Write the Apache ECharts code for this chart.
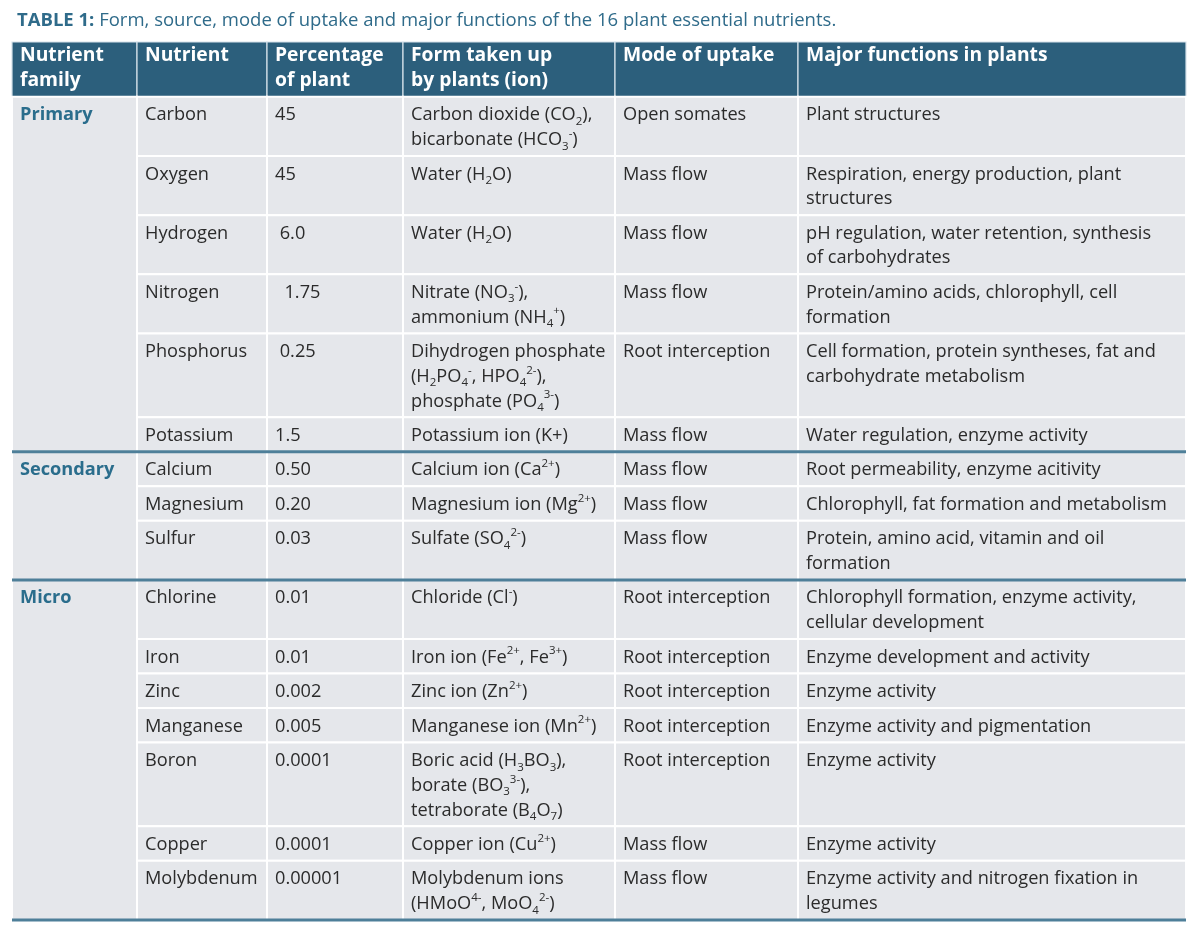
<!DOCTYPE html>
<html>
<head>
    <meta charset="utf-8">
    <title>Plant nutrients table</title>
    <script src="https://cdn.jsdelivr.net/npm/echarts@6/dist/echarts.min.js"></script>
    <style>
        html, body { margin: 0; padding: 0; background: #fff; }
    </style>
</head>
<body>
    <div id="main" style="width: 1200px;height:937px;"></div>
    <script type="text/javascript">
        var myChart = echarts.init(document.getElementById('main'));

        // table content
        var headers = ['Nutrient\nfamily', 'Nutrient', 'Percentage\nof plant', 'Form taken up\nby plants (ion)', 'Mode of uptake', 'Major functions in plants'];
        var families = ['Primary', 'Primary', 'Primary', 'Primary', 'Primary', 'Primary',
            'Secondary', 'Secondary', 'Secondary',
            'Micro', 'Micro', 'Micro', 'Micro', 'Micro', 'Micro', 'Micro'];
        var nutrients = ['Carbon', 'Oxygen', 'Hydrogen', 'Nitrogen', 'Phosphorus', 'Potassium',
            'Calcium', 'Magnesium', 'Sulfur',
            'Chlorine', 'Iron', 'Zinc', 'Manganese', 'Boron', 'Copper', 'Molybdenum'];
        var percentages = ['45', '45', ' 6.0', '  1.75', ' 0.25', '1.5',
            '0.50', '0.20', '0.03',
            '0.01', '0.01', '0.002', '0.005', '0.0001', '0.0001', '0.00001'];
        // {sub|..} and {sup|..} mark sub/superscripts
        var forms = [
            'Carbon dioxide (CO{sub|2}),\nbicarbonate (HCO{sub|3}{sup|-})',
            'Water (H{sub|2}O)',
            'Water (H{sub|2}O)',
            'Nitrate (NO{sub|3}{sup|-}),\nammonium (NH{sub|4}{sup|+})',
            'Dihydrogen phosphate\n(H{sub|2}PO{sub|4}{sup|-}, HPO{sub|4}{sup|2-}),\nphosphate (PO{sub|4}{sup|3-})',
            'Potassium ion (K+)',
            'Calcium ion (Ca{sup|2+})',
            'Magnesium ion (Mg{sup|2+})',
            'Sulfate (SO{sub|4}{sup|2-})',
            'Chloride (Cl{sup|-})',
            'Iron ion (Fe{sup|2+}, Fe{sup|3+})',
            'Zinc ion (Zn{sup|2+})',
            'Manganese ion (Mn{sup|2+})',
            'Boric acid (H{sub|3}BO{sub|3}),\nborate (BO{sub|3}{sup|3-}),\ntetraborate (B{sub|4}O{sub|7})',
            'Copper ion (Cu{sup|2+})',
            'Molybdenum ions\n(HMoO{sup|4-}, MoO{sub|4}{sup|2-})'
        ];
        var modes = ['Open somates', 'Mass flow', 'Mass flow', 'Mass flow', 'Root interception', 'Mass flow',
            'Mass flow', 'Mass flow', 'Mass flow',
            'Root interception', 'Root interception', 'Root interception', 'Root interception', 'Root interception', 'Mass flow', 'Mass flow'];
        var functions = [
            'Plant structures',
            'Respiration, energy production, plant\nstructures',
            'pH regulation, water retention, synthesis\nof carbohydrates',
            'Protein/amino acids, chlorophyll, cell\nformation',
            'Cell formation, protein syntheses, fat and\ncarbohydrate metabolism',
            'Water regulation, enzyme activity',
            'Root permeability, enzyme acitivity',
            'Chlorophyll, fat formation and metabolism',
            'Protein, amino acid, vitamin and oil\nformation',
            'Chlorophyll formation, enzyme activity,\ncellular development',
            'Enzyme development and activity',
            'Enzyme activity',
            'Enzyme activity and pigmentation',
            'Enzyme activity',
            'Enzyme activity',
            'Enzyme activity and nitrogen fixation in\nlegumes'
        ];

        // layout
        var colWidths = [125, 130, 136, 212, 183, 388];
        var LH = 24.8, PAD = 9.8, HEAD_H = 55;
        var FONT = '"Open Sans", Lato, sans-serif';
        var BODY_SIZE = 18.2, HEAD_SIZE = 19.3;
        var TEAL = '#2c5f7c', CELL = '#e5e7eb', LINE = '#4e7f99', INK = '#2b2b2b';

        var colEdges = [0];
        for (var c = 0; c < colWidths.length; c++) colEdges.push(colEdges[c] + colWidths[c]);
        var tableW = colEdges[colEdges.length - 1];

        var rowTops = [], rowHeights = [];
        var y = HEAD_H;
        for (var i = 0; i < nutrients.length; i++) {
            var cells = [nutrients[i], percentages[i], forms[i], modes[i], functions[i]];
            var lines = 1;
            for (var k = 0; k < cells.length; k++) lines = Math.max(lines, cells[k].split('\n').length);
            rowTops.push(y);
            rowHeights.push(PAD + LH * lines);
            y += PAD + LH * lines;
        }
        var tableH = y;

        var rich = {
            sub: { fontSize: 11.5, lineHeight: 16, verticalAlign: 'bottom', fontFamily: FONT, fill: INK },
            sup: { fontSize: 11.5, lineHeight: 16, verticalAlign: 'top', fontFamily: FONT, fill: INK }
        };

        function cellText(api, col, top, txt, opt) {
            var p = api.coord([colEdges[col] + 8, top]);
            return {
                type: 'text',
                style: {
                    text: txt,
                    x: p[0],
                    y: p[1],
                    fill: opt.fill || INK,
                    fontSize: opt.fontSize || BODY_SIZE,
                    fontWeight: opt.fontWeight || 'normal',
                    fontFamily: FONT,
                    lineHeight: LH,
                    verticalAlign: 'top',
                    align: 'left',
                    rich: rich
                }
            };
        }

        function rect(api, x0, y0, x1, y1, fill, stroke, lw) {
            var a = api.coord([x0, y0]), b = api.coord([x1, y1]);
            return {
                type: 'rect',
                shape: { x: a[0], y: a[1], width: b[0] - a[0], height: b[1] - a[1] },
                style: { fill: fill, stroke: stroke, lineWidth: lw }
            };
        }

        function hline(api, yv) {
            var a = api.coord([0, yv]), b = api.coord([tableW, yv]);
            return {
                type: 'line',
                shape: { x1: a[0], y1: a[1], x2: b[0], y2: b[1] },
                style: { stroke: LINE, lineWidth: 3 }
            };
        }

        function renderItem(params, api) {
            var idx = api.value(2);
            var children = [];
            if (idx < 0) {
                // header row
                for (var c = 0; c < headers.length; c++) {
                    children.push(rect(api, colEdges[c], 0, colEdges[c + 1], HEAD_H, TEAL, '#d5e2ea', 1.2));
                    children.push(cellText(api, c, 1.5, headers[c], { fill: '#ffffff', fontWeight: 'bold', fontSize: HEAD_SIZE }));
                }
                return { type: 'group', children: children };
            }
            var top = rowTops[idx], bottom = top + rowHeights[idx];
            var first = idx === 0 || families[idx - 1] !== families[idx];
            if (first) {
                var end = idx;
                while (end + 1 < families.length && families[end + 1] === families[idx]) end++;
                var groupBottom = rowTops[end] + rowHeights[end];
                children.push(rect(api, colEdges[0], top, colEdges[1], groupBottom, CELL, '#ffffff', 2));
                children.push(cellText(api, 0, top + 6, families[idx], { fill: '#2a6d8c', fontWeight: 'bold' }));
            }
            var vals = [nutrients[idx], percentages[idx], forms[idx], modes[idx], functions[idx]];
            for (var k = 0; k < vals.length; k++) {
                children.push(rect(api, colEdges[k + 1], top, colEdges[k + 2], bottom, CELL, '#ffffff', 2));
                children.push(cellText(api, k + 1, top + 6, vals[k], {}));
            }
            if (first && idx > 0) children.push(hline(api, top));
            if (idx === families.length - 1) children.push(hline(api, bottom));
            return { type: 'group', children: children };
        }

        var rowData = [[0, 0, -1]];
        for (var i = 0; i < nutrients.length; i++) rowData.push([0, rowTops[i], i]);

        option = {
            backgroundColor: '#ffffff',
            animation: false,
            title: {
                left: 12,
                top: 6,
                text: '{b|TABLE 1:} Form, source, mode of uptake and major functions of the 16 plant essential nutrients.',
                textStyle: {
                    color: '#2f6b8a',
                    fontSize: 18.5,
                    fontWeight: 'normal',
                    fontFamily: FONT,
                    rich: {
                        b: { color: '#2f6b8a', fontSize: 18.5, fontWeight: 'bold', fontFamily: FONT }
                    }
                }
            },
            grid: {
                left: 12,
                right: 14,
                top: 42,
                bottom: 17
            },
            xAxis: {
                type: 'value',
                min: 0,
                max: tableW,
                show: false
            },
            yAxis: {
                type: 'value',
                min: 0,
                max: tableH,
                inverse: true,
                show: false
            },
            series: [
                {
                    type: 'custom',
                    renderItem: renderItem,
                    clip: false,
                    data: rowData
                }
            ]
        };

        myChart.setOption(option);
    </script>
</body>
</html>
